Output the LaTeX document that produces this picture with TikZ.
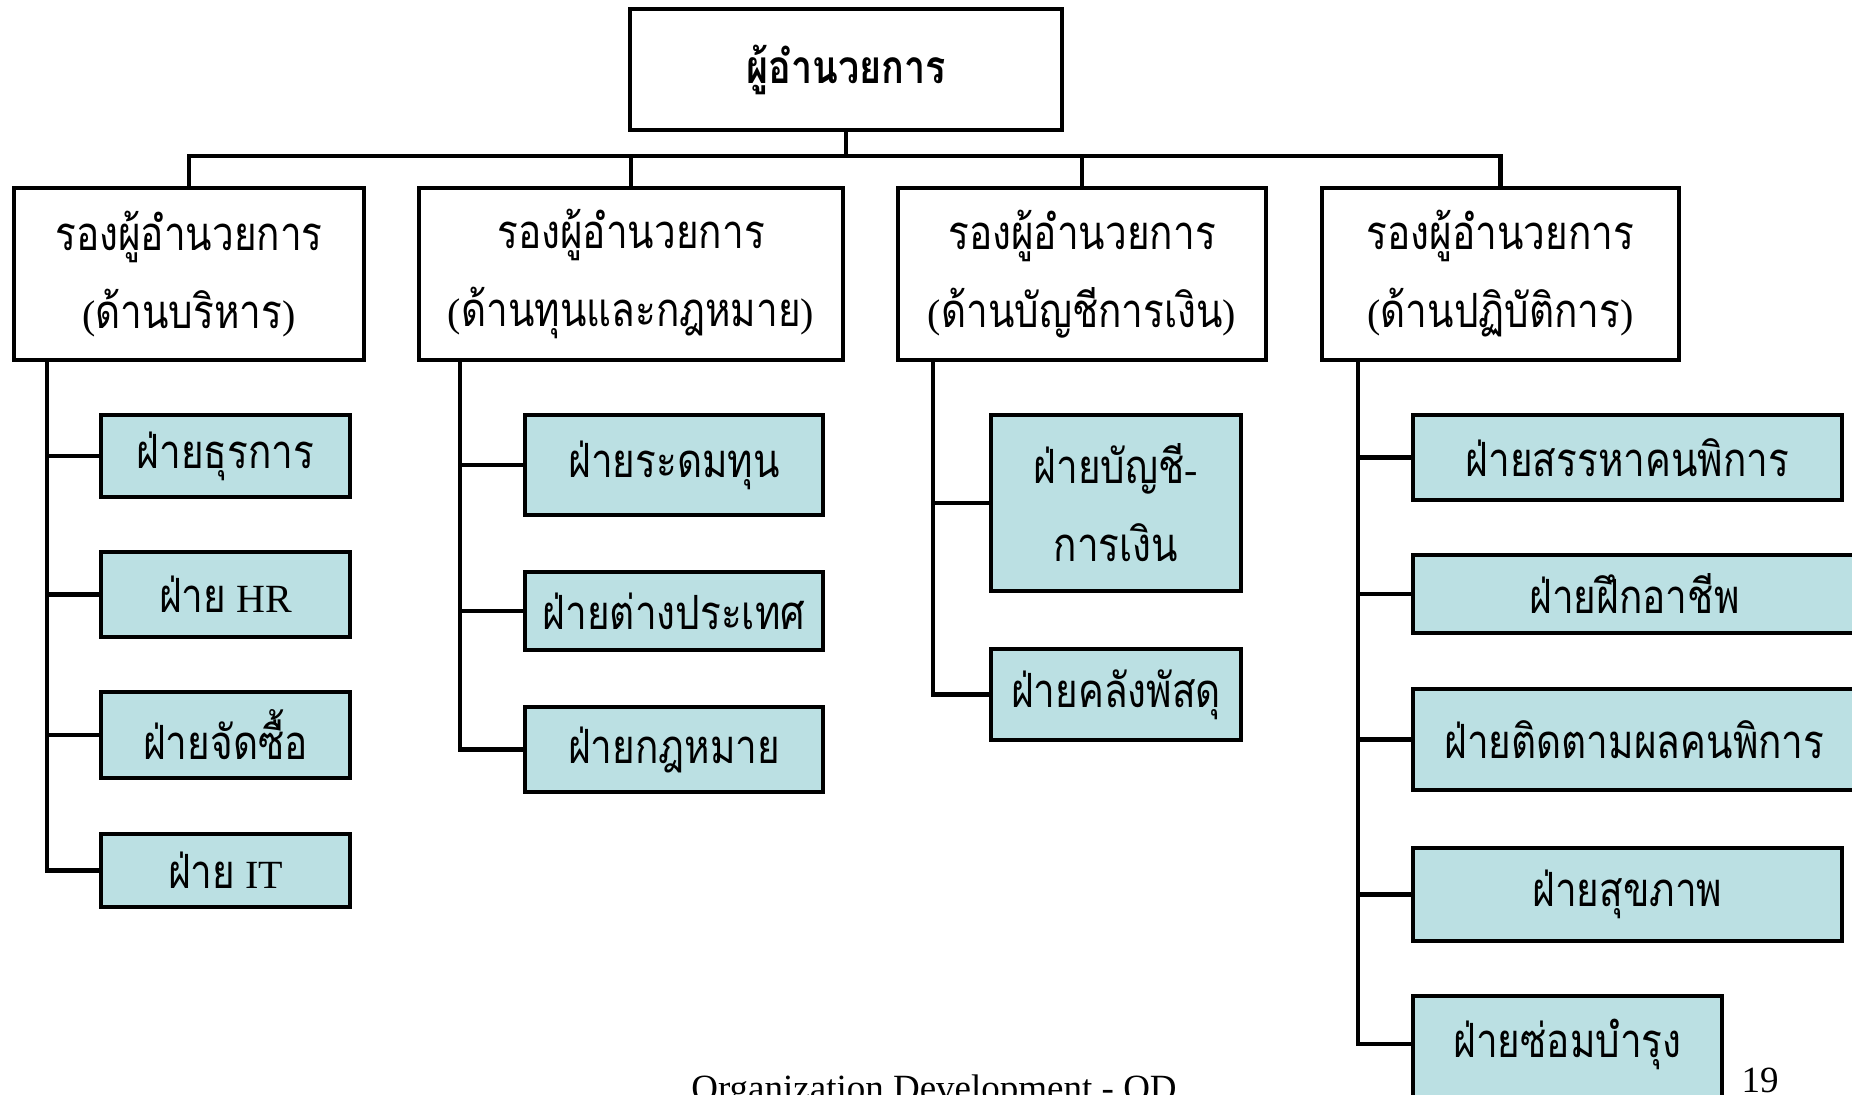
\documentclass[tikz,border=0pt]{standalone}
\usepackage{fontspec}
\setmainfont{Liberation Serif}
\newfontfamily\thai[Script=Thai,FakeStretch=0.82,Scale=1.18]{Loma}
\newcommand{\T}[1]{{\thai #1}}
\definecolor{deptblue}{HTML}{BBE0E3}
\begin{document}
\begin{tikzpicture}[x=0.5pt,y=-0.5pt,
  boxbase/.style={draw=black,line width=2.3pt,inner sep=0pt,outer sep=0pt,align=center},
  headbox/.style={boxbase,fill=white,font=\fontsize{19.5}{37}\selectfont},
  vpbox/.style={boxbase,fill=white,minimum height=86pt,font=\fontsize{20}{39}\selectfont},
  deptbox/.style={boxbase,fill=deptblue,font=\fontsize{20}{39}\selectfont},
  conn/.style={line width=2.3pt},
  foot/.style={inner sep=0pt,outer sep=0pt,anchor=base,font=\fontsize{18.5}{22}\selectfont}]
\useasboundingbox (0,0) rectangle (1852,1095);
\clip (0,0) rectangle (1852,1095);
\fill[white] (0,0) rectangle (1852,1095);

% top
\node[headbox,minimum width=216pt,minimum height=60.5pt] (top) at (846,69.5) {\T{\bfseries ผู้อำนวยการ}};

% deputies
\node[vpbox,minimum width=175pt] (b1) at (189,274) {\T{รองผู้อำนวยการ}\\(\T{ด้านบริหาร})};
\node[vpbox,minimum width=212pt] (b2) at (631,274) {\T{รองผู้อำนวยการ}\\(\T{ด้านทุนและกฎหมาย})};
\node[vpbox,minimum width=184pt] (b3) at (1082,274) {\T{รองผู้อำนวยการ}\\(\T{ด้านบัญชีการเงิน})};
\node[vpbox,minimum width=178.5pt] (b4) at (1500.5,274) {\T{รองผู้อำนวยการ}\\(\T{ด้านปฏิบัติการ})};

% group 1
\node[deptbox,minimum width=124.5pt,minimum height=41pt] (c11) at (225.5,456) {\T{ฝ่ายธุรการ}};
\node[deptbox,minimum width=124.5pt,minimum height=42.5pt] (c12) at (225.5,594.5) {\T{ฝ่าย} HR};
\node[deptbox,minimum width=124.5pt,minimum height=43pt] (c13) at (225.5,735) {\T{ฝ่ายจัดซื้อ}};
\node[deptbox,minimum width=124.5pt,minimum height=36.5pt] (c14) at (225.5,870.5) {\T{ฝ่าย} IT};

% group 2
\node[deptbox,minimum width=149pt,minimum height=50pt] (c21) at (674,465) {\T{ฝ่ายระดมทุน}};
\node[deptbox,minimum width=149pt,minimum height=39pt] (c22) at (674,611) {\T{ฝ่ายต่างประเทศ}};
\node[deptbox,minimum width=149pt,minimum height=42.5pt] (c23) at (674,749.5) {\T{ฝ่ายกฎหมาย}};

% group 3
\node[deptbox,minimum width=125pt,minimum height=88pt] (c31) at (1116,503) {\T{ฝ่ายบัญชี}-\\\T{การเงิน}};
\node[deptbox,minimum width=125pt,minimum height=45.5pt] (c32) at (1116,694.5) {\T{ฝ่ายคลังพัสดุ}};

% group 4
\node[deptbox,minimum width=214.5pt,minimum height=42.5pt] (c41) at (1627.5,457.5) {\T{ฝ่ายสรรหาคนพิการ}};
\node[deptbox,minimum width=221.5pt,minimum height=39pt] (c42) at (1634.5,594) {\T{ฝ่ายฝึกอาชีพ}};
\node[deptbox,minimum width=221.5pt,minimum height=50.5pt] (c43) at (1634.5,739.5) {\T{ฝ่ายติดตามผลคนพิการ}};
\node[deptbox,minimum width=214.5pt,minimum height=46.5pt] (c44) at (1627.5,894.5) {\T{ฝ่ายสุขภาพ}};
\node[deptbox,minimum width=154.5pt,minimum height=58pt] (c45) at (1567.5,1054) {};
\node[inner sep=0pt,font=\fontsize{20}{39}\selectfont] (c45t) at (1567.5,1044) {\T{ฝ่ายซ่อมบำรุง}};

% footer
\node[foot] (footer) at (934,1100) {Organization Development - OD};
\node[foot] (pagenum) at (1760,1092) {19};

% connectors
\draw[conn] (top.south) -- ++(0,26) coordinate (hub);
\draw[conn] (b1.north) |- (hub) -| (b4.north);
\draw[conn] (b2.north) |- (hub);
\draw[conn] (b3.north) |- (hub);

\coordinate (t1) at (47,360);
\coordinate (t2) at (460,360);
\coordinate (t3) at (933,360);
\coordinate (t4) at (1358,360);

\foreach \c in {c11,c12,c13,c14} \draw[conn] (t1) |- (\c.west);
\foreach \c in {c21,c22,c23} \draw[conn] (t2) |- (\c.west);
\foreach \c in {c31,c32} \draw[conn] (t3) |- (\c.west);
\foreach \c in {c41,c42,c43,c44} \draw[conn] (t4) |- (\c.west);
\draw[conn] (t4) |- (c45t.west -| c45.west);
\end{tikzpicture}
\end{document}
